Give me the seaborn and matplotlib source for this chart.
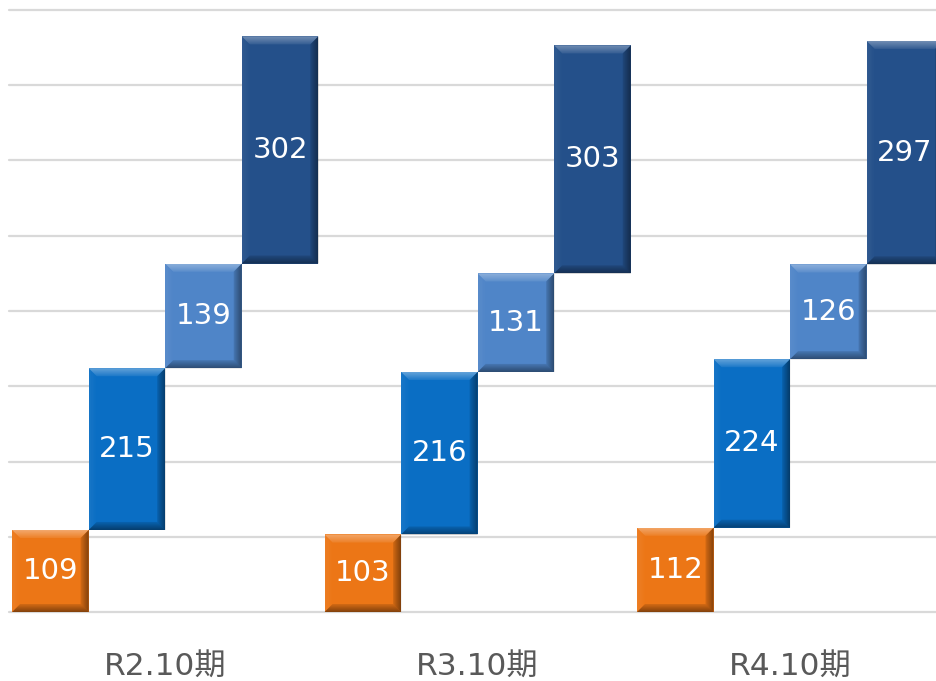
import numpy as np
import pandas as pd
import matplotlib
matplotlib.use("Agg")
import matplotlib.pyplot as plt
import seaborn as sns

periods = ["R2.10期", "R3.10期", "R4.10期"]
series = ["s1", "s2", "s3", "s4"]
v1 = [109, 103, 112]
v2 = [215, 216, 224]
v3 = [139, 131, 126]
v4 = [302, 303, 297]
colors = ["#EC7616", "#0A6EC4", "#4F85C8", "#24508A"]

rows = []
for i, p in enumerate(periods):
    cum = 0
    for s, vals in zip(series, [v1, v2, v3, v4]):
        rows.append(dict(period=p, series=s, value=vals[i], bottom=cum, top=cum + vals[i]))
        cum += vals[i]
df = pd.DataFrame(rows)

sns.set_theme(style="white")
plt.rcParams["font.family"] = ["DejaVu Sans", "Noto Sans CJK JP"]

fig = plt.figure(figsize=(9.36, 6.81), dpi=100)
ax = fig.add_axes([9 / 936, (681 - 612) / 681, 1 - 9 / 936, (612 - 10) / 681])

sns.barplot(data=df, x="period", y="top", hue="series", palette=colors,
            width=0.98, gap=0, dodge=True, saturation=1, legend=False,
            errorbar=None, ax=ax, linewidth=0, zorder=3)

ax.set_xlim(-0.5, 2.467)
ax.set_ylim(0, 800)

px_x = 1.0 / 312.5
px_y = 800 / 602
bev = 8
for ci, cont in enumerate(ax.containers):
    for j, patch in enumerate(cont.patches):
        sub = df[(df.series == series[ci]) & (df.period == periods[j])].iloc[0]
        patch.set_y(sub.bottom)
        patch.set_height(sub.value)
        x0 = patch.get_x()
        x1 = x0 + patch.get_width()
        y0 = sub.bottom
        y1 = sub.top
        # layered soft bevel
        for k in range(bev):
            a_in = k * px_x
            b_in = k * px_y
            a_out = (k + 1) * px_x
            b_out = (k + 1) * px_y
            f = 1 - k / bev
            ax.fill([x0 + a_in, x1 - a_in, x1 - a_out, x0 + a_out],
                    [y1 - b_in, y1 - b_in, y1 - b_out, y1 - b_out],
                    color="white", alpha=0.30 * f + 0.06, lw=0, zorder=4)
            ax.fill([x0 + a_in, x1 - a_in, x1 - a_out, x0 + a_out],
                    [y0 + b_in, y0 + b_in, y0 + b_out, y0 + b_out],
                    color="black", alpha=0.35 * f + 0.08, lw=0, zorder=4)
            ax.fill([x0 + a_in, x0 + a_out, x0 + a_out, x0 + a_in],
                    [y0 + b_in, y0 + b_out, y1 - b_out, y1 - b_in],
                    color="white", alpha=0.06 * f, lw=0, zorder=4)
            ax.fill([x1 - a_in, x1 - a_out, x1 - a_out, x1 - a_in],
                    [y0 + b_in, y0 + b_out, y1 - b_out, y1 - b_in],
                    color="black", alpha=0.38 * f + 0.08, lw=0, zorder=4)
        ax.text((x0 + x1) / 2, (y0 + y1) / 2, f"{int(sub.value)}",
                ha="center", va="center", color="white", fontsize=21, zorder=5)

ax.set_yticks(np.arange(0, 801, 100))
ax.set_yticklabels([])
ax.yaxis.grid(True, color="#d9d9d9", linewidth=1.6)
for gl in ax.yaxis.get_gridlines():
    gl.set_clip_on(False)
ax.xaxis.grid(False)
ax.set_axisbelow(True)
for sp in ax.spines.values():
    sp.set_visible(False)
ax.set_xlabel("")
ax.set_ylabel("")
ax.tick_params(axis="x", length=0, pad=29.5, labelsize=22.5, labelcolor="#595959")
ax.tick_params(axis="y", length=0)

fig.savefig("out.png", dpi=100)
